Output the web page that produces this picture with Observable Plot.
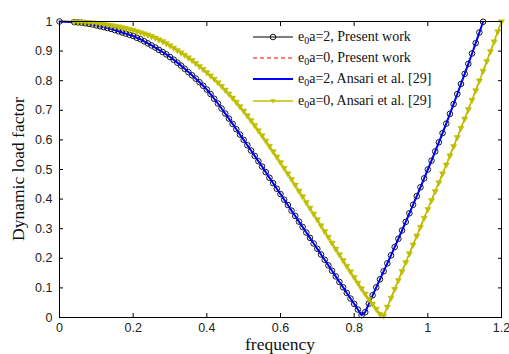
<!DOCTYPE html>
<html>
<head>
<meta charset="utf-8">
<script src="https://cdn.jsdelivr.net/npm/d3@7"></script>
<script src="https://cdn.jsdelivr.net/npm/@observablehq/plot@0.6"></script>
<style>
  html, body { margin: 0; padding: 0; background: #fff; }
  #wrap { position: relative; width: 509px; height: 354px; background: #fff; overflow: hidden; }
  .ylab { position: absolute; left: 19px; top: 169px; transform: translate(-50%, -50%) rotate(-90deg);
          font-family: "Liberation Serif", "Times New Roman", serif; font-size: 17.5px; line-height: 1; color: #111; white-space: nowrap; }
  .xlab { position: absolute; left: 280px; top: 336px; transform: translateX(-50%);
          font-family: "Liberation Serif", "Times New Roman", serif; font-size: 17.5px; line-height: 1; color: #111; white-space: nowrap; }
  .legend { position: absolute; left: 253px; top: 26px; font-family: "Liberation Serif", "Times New Roman", serif;
            font-size: 14px; color: #111; }
  .row { display: flex; align-items: center; height: 21.3px; white-space: nowrap; }
  .row svg { margin-right: 5px; }
  .row sub { font-size: 10px; vertical-align: -3px; line-height: 0; }
</style>
</head>
<body>
<div id="wrap">
  <div id="chart"></div>
  <div class="ylab">Dynamic load factor</div>
  <div class="xlab">frequency</div>
  <div class="legend" id="legend"></div>
</div>
<script>
// ---- data ----
const xTicks = [0, 0.2, 0.4, 0.6, 0.8, 1, 1.2];
const xTickLabels = ["0", "0.2", "0.4", "0.6", "0.8", "1", "1.2"];
const yTicks = [0, 0.1, 0.2, 0.3, 0.4, 0.5, 0.6, 0.7, 0.8, 0.9, 1];
const yTickLabels = ["0", "0.1", "0.2", "0.3", "0.4", "0.5", "0.6", "0.7", "0.8", "0.9", "1"];

const freqE2 = [0,
  0.04,0.05,0.06,0.07,0.08,0.09,0.10,0.11,0.12,0.13,0.14,0.15,0.16,0.17,0.18,0.19,
  0.20,0.21,0.22,0.23,0.24,0.25,0.26,0.27,0.28,0.29,0.30,0.31,0.32,0.33,0.34,0.35,
  0.36,0.37,0.38,0.39,0.40,0.41,0.42,0.43,0.44,0.45,0.46,0.47,0.48,0.49,0.50,0.51,
  0.52,0.53,0.54,0.55,0.56,0.57,0.58,0.59,0.60,0.61,0.62,0.63,0.64,0.65,0.66,0.67,
  0.68,0.69,0.70,0.71,0.72,0.73,0.74,0.75,0.76,0.77,0.78,0.79,0.80,0.81,0.82,0.83,
  0.84,0.85,0.86,0.87,0.88,0.89,0.90,0.91,0.92,0.93,0.94,0.95,0.96,0.97,0.98,0.99,
  1.00,1.01,1.02,1.03,1.04,1.05,1.06,1.07,1.08,1.09,1.10,1.11,1.12,1.13,1.14,1.15];

const presentE2 = [1.000,
  0.998,0.997,0.996,0.994,0.992,0.990,0.987,0.984,0.981,0.978,0.975,0.971,0.967,0.963,0.959,0.955,
  0.951,0.945,0.940,0.933,0.926,0.919,0.912,0.904,0.897,0.889,0.880,0.871,0.861,0.851,0.840,0.829,
  0.818,0.807,0.795,0.783,0.770,0.755,0.739,0.723,0.706,0.689,0.672,0.654,0.636,0.618,0.600,0.582,
  0.564,0.546,0.528,0.510,0.491,0.472,0.454,0.435,0.417,0.398,0.380,0.361,0.343,0.324,0.306,0.287,
  0.269,0.250,0.232,0.213,0.195,0.176,0.158,0.139,0.120,0.102,0.083,0.064,0.046,0.027,0.008,0.018,
  0.047,0.075,0.102,0.129,0.156,0.183,0.210,0.238,0.266,0.294,0.323,0.352,0.381,0.410,0.440,0.470,
  0.500,0.530,0.561,0.592,0.623,0.655,0.688,0.721,0.755,0.789,0.823,0.857,0.892,0.927,0.963,0.999];

// Ansari et al. e0a=2 lies on top of the present-work e0a=2 curve
const ansariE2 = presentE2;

const freqE0 = [
  0.04,0.05,0.06,0.07,0.08,0.09,0.10,0.11,0.12,0.13,0.14,0.15,0.16,0.17,0.18,0.19,
  0.20,0.21,0.22,0.23,0.24,0.25,0.26,0.27,0.28,0.29,0.30,0.31,0.32,0.33,0.34,0.35,
  0.36,0.37,0.38,0.39,0.40,0.41,0.42,0.43,0.44,0.45,0.46,0.47,0.48,0.49,0.50,0.51,
  0.52,0.53,0.54,0.55,0.56,0.57,0.58,0.59,0.60,0.61,0.62,0.63,0.64,0.65,0.66,0.67,
  0.68,0.69,0.70,0.71,0.72,0.73,0.74,0.75,0.76,0.77,0.78,0.79,0.80,0.81,0.82,0.83,
  0.84,0.85,0.86,0.87,0.88,0.89,0.90,0.91,0.92,0.93,0.94,0.95,0.96,0.97,0.98,0.99,
  1.00,1.01,1.02,1.03,1.04,1.05,1.06,1.07,1.08,1.09,1.10,1.11,1.12,1.13,1.14,1.15,
  1.16,1.17,1.18,1.19,1.20];

const ansariE0 = [
  1.000,0.999,0.999,0.998,0.997,0.996,0.995,0.993,0.991,0.989,0.987,0.985,0.983,0.980,0.977,0.974,
  0.971,0.967,0.963,0.959,0.955,0.950,0.945,0.939,0.933,0.926,0.919,0.911,0.903,0.895,0.887,0.878,
  0.869,0.859,0.849,0.839,0.828,0.817,0.806,0.794,0.782,0.769,0.756,0.742,0.728,0.713,0.698,0.682,
  0.666,0.649,0.632,0.615,0.597,0.579,0.561,0.543,0.524,0.505,0.486,0.467,0.448,0.428,0.409,0.389,
  0.370,0.350,0.331,0.311,0.291,0.272,0.252,0.232,0.213,0.193,0.174,0.155,0.136,0.117,0.098,0.080,
  0.062,0.046,0.029,0.012,0.006,0.036,0.066,0.096,0.126,0.156,0.186,0.216,0.246,0.276,0.306,0.336,
  0.366,0.396,0.426,0.456,0.486,0.516,0.547,0.578,0.609,0.640,0.671,0.703,0.735,0.767,0.800,0.833,
  0.866,0.899,0.932,0.966,1.000];

// present work e0a=0 coincides with Ansari e0a=0
const presentE0 = ansariE0;

const labels = ["e0a=2, Present work", "e0a=0, Present work", "e0a=2, Ansari et al. [29]", "e0a=0, Ansari et al. [29]"];
const colors = ["#000000", "#ff0000", "#0000ff", "#bfbf00"];

// ---- build tables ----
const tE2 = freqE2.map((f, i) => ({f, p: presentE2[i], a: ansariE2[i]}));
const tE0 = freqE0.map((f, i) => ({f, p: presentE0[i], a: ansariE0[i]}));
const xFmt = d => xTickLabels[xTicks.indexOf(d)];
const yFmt = d => yTickLabels[yTicks.indexOf(d)];

const chart = Plot.plot({
  width: 509,
  height: 354,
  marginLeft: 59,
  marginRight: 8,
  marginTop: 21,
  marginBottom: 37,
  x: {domain: [0, 1.2]},
  y: {domain: [0, 1]},
  style: {fontFamily: "'Liberation Sans', Arial, sans-serif", fontSize: "12.5px", color: "#222", background: "#fff"},
  marks: [
    // curves
    Plot.line(tE2, {x: "f", y: "p", stroke: colors[0], strokeWidth: 1}),
    Plot.dot(tE2, {x: "f", y: "p", r: 2.8, stroke: colors[0], strokeWidth: 0.9, fill: "none"}),
    Plot.line(tE0, {x: "f", y: "p", stroke: colors[1], strokeWidth: 1.2, strokeDasharray: "4,3"}),
    Plot.line(tE2, {x: "f", y: "a", stroke: colors[2], strokeWidth: 2}),
    Plot.line(tE0, {x: "f", y: "a", stroke: colors[3], strokeWidth: 1.6}),
    Plot.dot(tE0, {x: "f", y: "a", symbol: "triangle", rotate: 180, r: 2.3, fill: colors[3], stroke: colors[3], strokeWidth: 0.5}),
    // frame + inward ticks on all sides
    Plot.frame({stroke: "#000", strokeWidth: 1}),
    Plot.axisX(xTicks, {anchor: "bottom", tickSize: -4, tickFormat: () => "", label: null, stroke: "#000"}),
    Plot.axisX(xTicks, {anchor: "top", tickSize: -4, tickFormat: () => "", label: null, stroke: "#000"}),
    Plot.axisY(yTicks, {anchor: "left", tickSize: -4, tickFormat: () => "", label: null, stroke: "#000"}),
    Plot.axisY(yTicks, {anchor: "right", tickSize: -4, tickFormat: () => "", label: null, stroke: "#000"}),
    // tick labels
    Plot.axisX(xTicks, {anchor: "bottom", tickSize: 0, tickPadding: 5.5, tickFormat: xFmt, label: null, fill: "#222"}),
    Plot.axisY(yTicks, {anchor: "left", tickSize: 0, tickPadding: 7, tickFormat: yFmt, label: null, fill: "#222"})
  ]
});
document.getElementById("chart").appendChild(chart);

// ---- legend ----
const legend = document.getElementById("legend");
const swatch = [
  `<line x1="0" y1="5" x2="40" y2="5" stroke="${colors[0]}" stroke-width="1"/><circle cx="20" cy="5" r="2.8" fill="none" stroke="${colors[0]}" stroke-width="0.9"/>`,
  `<line x1="0" y1="5" x2="40" y2="5" stroke="${colors[1]}" stroke-width="1.2" stroke-dasharray="4,3"/>`,
  `<line x1="0" y1="5" x2="40" y2="5" stroke="${colors[2]}" stroke-width="2"/>`,
  `<line x1="0" y1="5" x2="40" y2="5" stroke="${colors[3]}" stroke-width="1.6"/><path d="M17.2,3.2 L22.8,3.2 L20,7.6 Z" fill="${colors[3]}"/>`
];
labels.forEach((lab, i) => {
  const row = document.createElement("div");
  row.className = "row";
  const html = lab.replace("e0a", "e<sub>0</sub>a");
  row.innerHTML = `<svg width="40" height="10">${swatch[i]}</svg><span>${html}</span>`;
  legend.appendChild(row);
});
</script>
</body>
</html>
